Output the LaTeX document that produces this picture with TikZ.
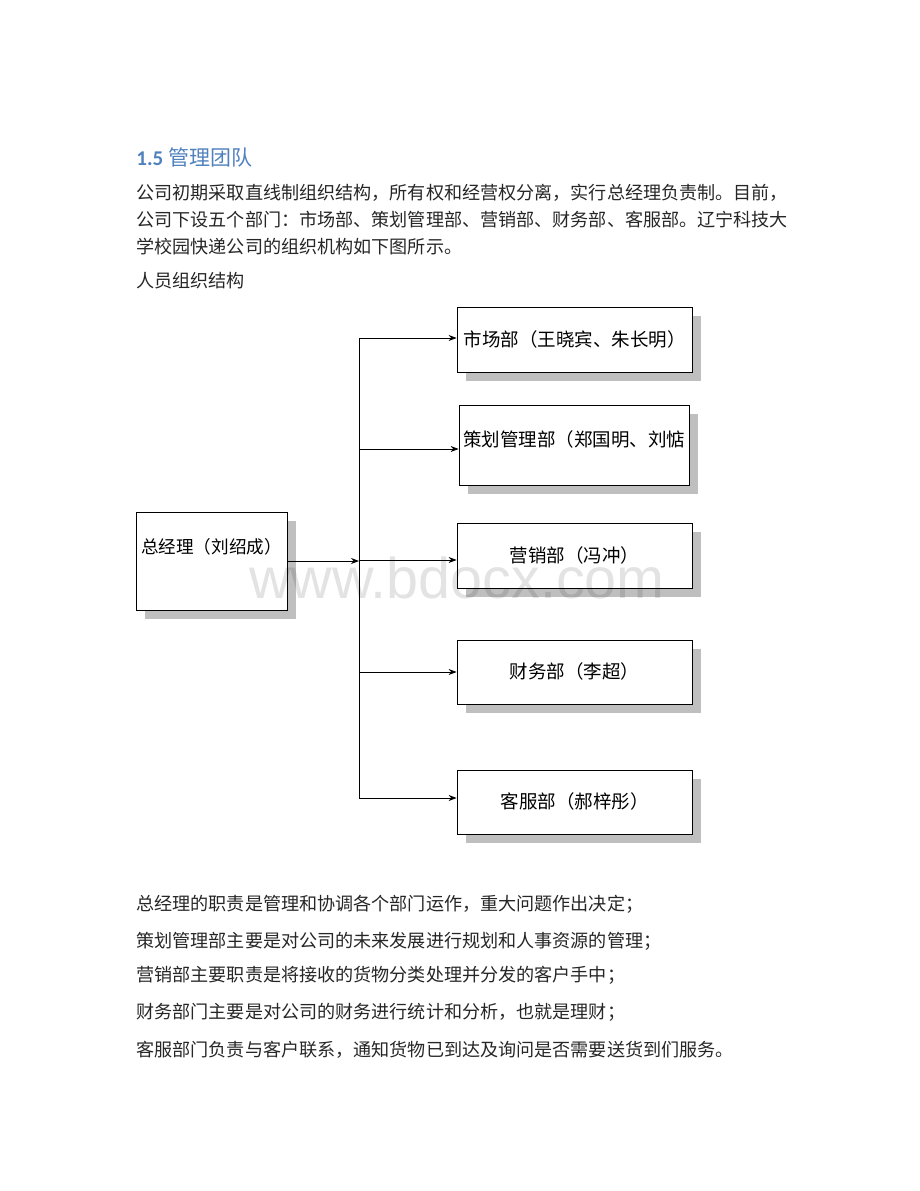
\documentclass[tikz,border=0pt]{standalone}
\usepackage{fontspec}
\setmainfont{Carlito}
\newfontfamily\cjk{Noto Sans CJK SC}
\newfontfamily\wmfont{Liberation Sans}
\usetikzlibrary{arrows.meta,shadows,positioning}
\definecolor{headblue}{HTML}{4F81BD}
\definecolor{bodytext}{HTML}{262626}

\begin{document}
\begin{tikzpicture}[x=1pt,y=-1pt,->,>={Stealth[length=8pt,width=6pt]},line width=0.8pt,
    para/.style={anchor=base west,inner sep=0pt,text=bodytext,font=\cjk\fontsize{18.1}{21}\selectfont},
    dept/.style={draw,rectangle,fill=white,inner sep=0pt,text height=15pt,minimum width=235pt,minimum height=65pt,
      font=\cjk\fontsize{18.5}{21}\selectfont,general shadow={fill=black!25,shadow xshift=9pt,shadow yshift=-9pt}}]

  \useasboundingbox (0,0) rectangle (920,1191);

  % heading and text above the chart
  \node[anchor=base west,inner sep=0pt,text=headblue] (title) at (136,165)
    {\fontsize{21}{24}\selectfont\textbf{1.5} {\cjk 管理团队}};
  \node[para] (p1) at (136,199.5) {公司初期采取直线制组织结构，所有权和经营权分离，实行总经理负责制。目前，};
  \node[para] (p2) at (136,226.5) {公司下设五个部门：市场部、策划管理部、营销部、财务部、客服部。辽宁科技大};
  \node[para] (p3) at (136,253.5) {学校园快递公司的组织机构如下图所示。};
  \node[para] (cap) at (136,287.5) {人员组织结构};

  % chart
  \node[dept,minimum width=151pt,minimum height=98pt,text depth=30pt,font=\cjk\fontsize{17.6}{21}\selectfont] (gm) at (211.5,561) {总经理（刘绍成）};

  \node[dept] (m1) at (574.5,339.5) {市场部（王晓宾、朱长明）};
  \node[dept,minimum width=230pt,minimum height=80pt,text depth=12pt] (m2) at (574,445) {策划管理部（郑国明、刘惦};
  \node[dept] (m3) at (574.5,555.5) {营销部（冯冲）};
  \node[dept,minimum height=64pt] (m4) at (574.5,672) {财务部（李超）};
  \node[dept,minimum height=64pt] (m5) at (574.5,802) {客服部（郝梓彤）};

  \coordinate (top) at (359,338);
  \coordinate (bot) at (359,798);
  \draw[-] (top) -- (bot);
  \draw (gm.east) -- (gm.east -| top);
  \foreach \y/\n in {338/m1,449/m2,560/m3,672/m4,798/m5}{
    \coordinate (j\n) at (359,\y);
    \draw (j\n) -- (j\n -| \n.west);
  }

  % watermark
  \node[text=black,text opacity=0.11,font=\wmfont\fontsize{57.5}{58}\selectfont] (wm) at (457,578) {www.bdocx.com};

  % text below the chart
  \node[para] (d1) at (136,910.5) {总经理的职责是管理和协调各个部门运作，重大问题作出决定；};
  \node[para] (d2) at (136,947.5) {策划管理部主要是对公司的未来发展进行规划和人事资源的管理；};
  \node[para] (d3) at (136,981.5) {营销部主要职责是将接收的货物分类处理并分发的客户手中；};
  \node[para] (d4) at (136,1018.5) {财务部门主要是对公司的财务进行统计和分析，也就是理财；};
  \node[para] (d5) at (136,1056.5) {客服部门负责与客户联系，通知货物已到达及询问是否需要送货到们服务。};

\end{tikzpicture}
\end{document}
